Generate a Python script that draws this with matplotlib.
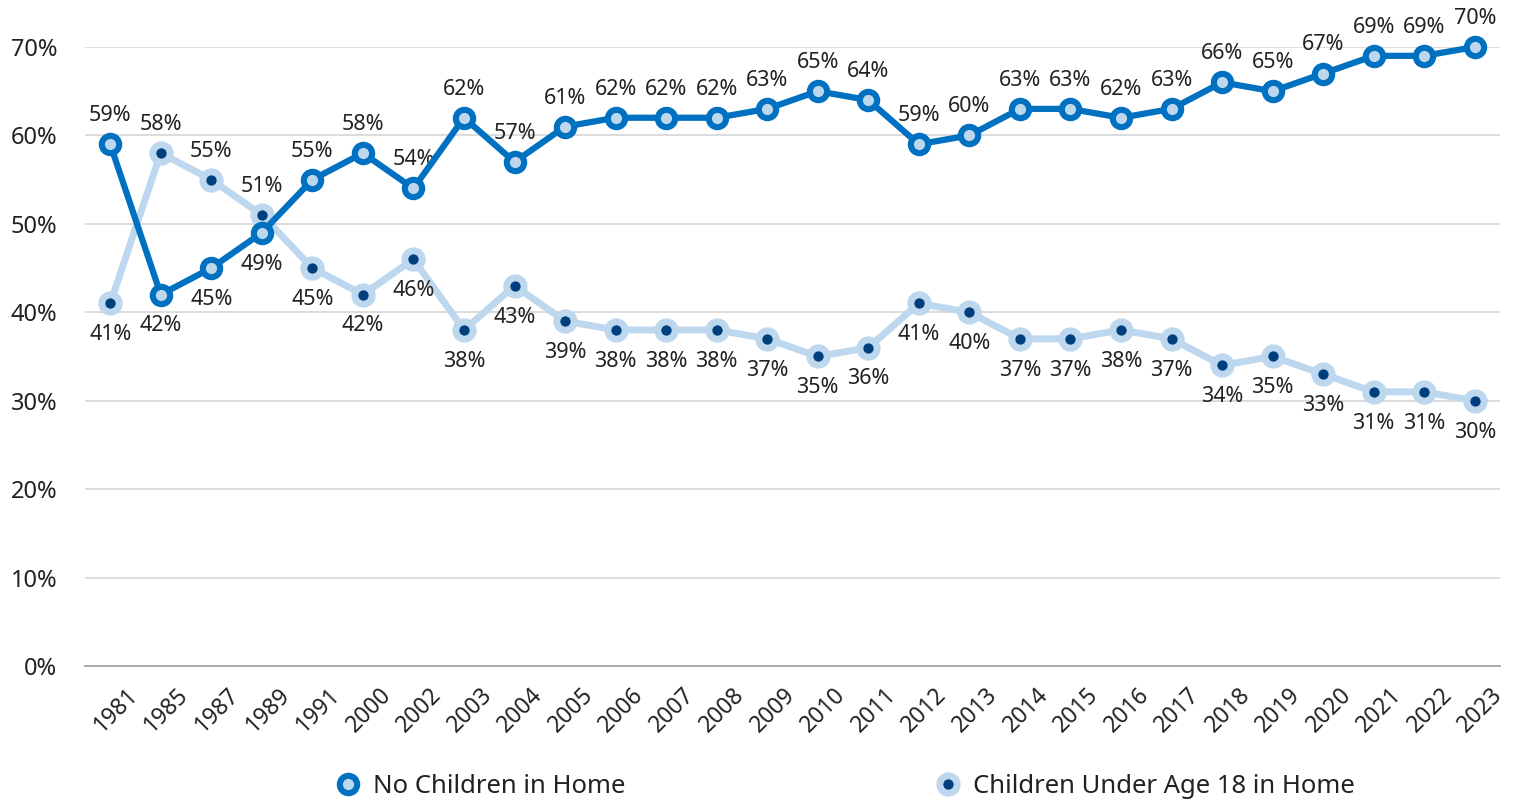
import matplotlib
matplotlib.use("Agg")
import matplotlib.pyplot as plt
import matplotlib.transforms as mtransforms
from matplotlib.lines import Line2D

years = ["1981", "1985", "1987", "1989", "1991", "2000", "2002", "2003", "2004",
         "2005", "2006", "2007", "2008", "2009", "2010", "2011", "2012", "2013",
         "2014", "2015", "2016", "2017", "2018", "2019", "2020", "2021", "2022", "2023"]
no_children = [59, 42, 45, 49, 55, 58, 54, 62, 57, 61, 62, 62, 62, 63, 65, 64,
               59, 60, 63, 63, 62, 63, 66, 65, 67, 69, 69, 70]
children = [41, 58, 55, 51, 45, 42, 46, 38, 43, 39, 38, 38, 38, 37, 35, 36,
            41, 40, 37, 37, 38, 37, 34, 35, 33, 31, 31, 30]
y_ticks = [0, 10, 20, 30, 40, 50, 60, 70]

DARK = "#0070C0"
LIGHT = "#BDD7EE"
NAVY = "#003F7D"
TEXT = "#222222"

plt.rcParams["font.family"] = ["Noto Sans", "DejaVu Sans"]

fig = plt.figure(figsize=(15.17, 8.02), dpi=100)
ax = fig.add_axes([0.056, 0.1696, 0.9328, 0.7718])

x = list(range(len(years)))

ax.plot(x, children, color=LIGHT, linewidth=5, marker="o", markersize=12.5,
        markerfacecolor=NAVY, markeredgecolor=LIGHT, markeredgewidth=5,
        solid_joinstyle="round", clip_on=False, zorder=3)
ax.plot(x, no_children, color=DARK, linewidth=4.5, marker="o", markersize=12.5,
        markerfacecolor=LIGHT, markeredgecolor=DARK, markeredgewidth=4.4,
        solid_joinstyle="round", clip_on=False, zorder=4)

# whichever series is higher gets its label above the point
for i in x:
    a, b = no_children[i], children[i]
    dark_above = a > b
    ax.annotate(f"{a}%", (i, a), xytext=(0, 13 if dark_above else -15),
                textcoords="offset points", ha="center",
                va="bottom" if dark_above else "top", fontsize=15.5, color=TEXT)
    ax.annotate(f"{b}%", (i, b), xytext=(0, -15 if dark_above else 13),
                textcoords="offset points", ha="center",
                va="top" if dark_above else "bottom", fontsize=15.5, color=TEXT)

ax.set_xlim(-0.5, len(years) - 0.5)
ax.set_ylim(0, 70)
ax.set_yticks(y_ticks)
ax.set_yticklabels([f"{t}%" for t in y_ticks], fontsize=17, color=TEXT)
ax.set_xticks(x)
ax.set_xticklabels(years, rotation=45, ha="right", rotation_mode="anchor",
                   fontsize=16.5, color=TEXT)
ax.tick_params(axis="both", length=0)
ax.tick_params(axis="y", pad=20)
ax.tick_params(axis="x", pad=8)
shift = mtransforms.ScaledTranslation(0.16, -0.06, fig.dpi_scale_trans)
for lbl in ax.get_xticklabels():
    lbl.set_transform(lbl.get_transform() + shift)
ax.grid(axis="y", color="#d9d9d9", linewidth=1.3)
ax.set_axisbelow(True)
for side in ["top", "right", "left"]:
    ax.spines[side].set_visible(False)
ax.spines["bottom"].set_color("#a6a6a6")
ax.spines["bottom"].set_linewidth(1.3)

h1 = Line2D([], [], color="none", marker="o", markersize=12.5,
            markerfacecolor=LIGHT, markeredgecolor=DARK, markeredgewidth=4.4)
h2 = Line2D([], [], color="none", marker="o", markersize=12.5,
            markerfacecolor=NAVY, markeredgecolor=LIGHT, markeredgewidth=5)
leg1 = fig.legend([h1], ["No Children in Home"], loc="center left",
                  bbox_to_anchor=(0.222, 0.019), frameon=False, fontsize=18.5,
                  handlelength=0.85, handletextpad=0.55, borderpad=0, borderaxespad=0)
for t in leg1.get_texts():
    t.set_color(TEXT)
leg2 = fig.legend([h2], ["Children Under Age 18 in Home"], loc="center left",
                  bbox_to_anchor=(0.618, 0.019), frameon=False, fontsize=18.5,
                  handlelength=0.85, handletextpad=0.55, borderpad=0, borderaxespad=0)
for t in leg2.get_texts():
    t.set_color(TEXT)

fig.savefig("out.png", dpi=100)
